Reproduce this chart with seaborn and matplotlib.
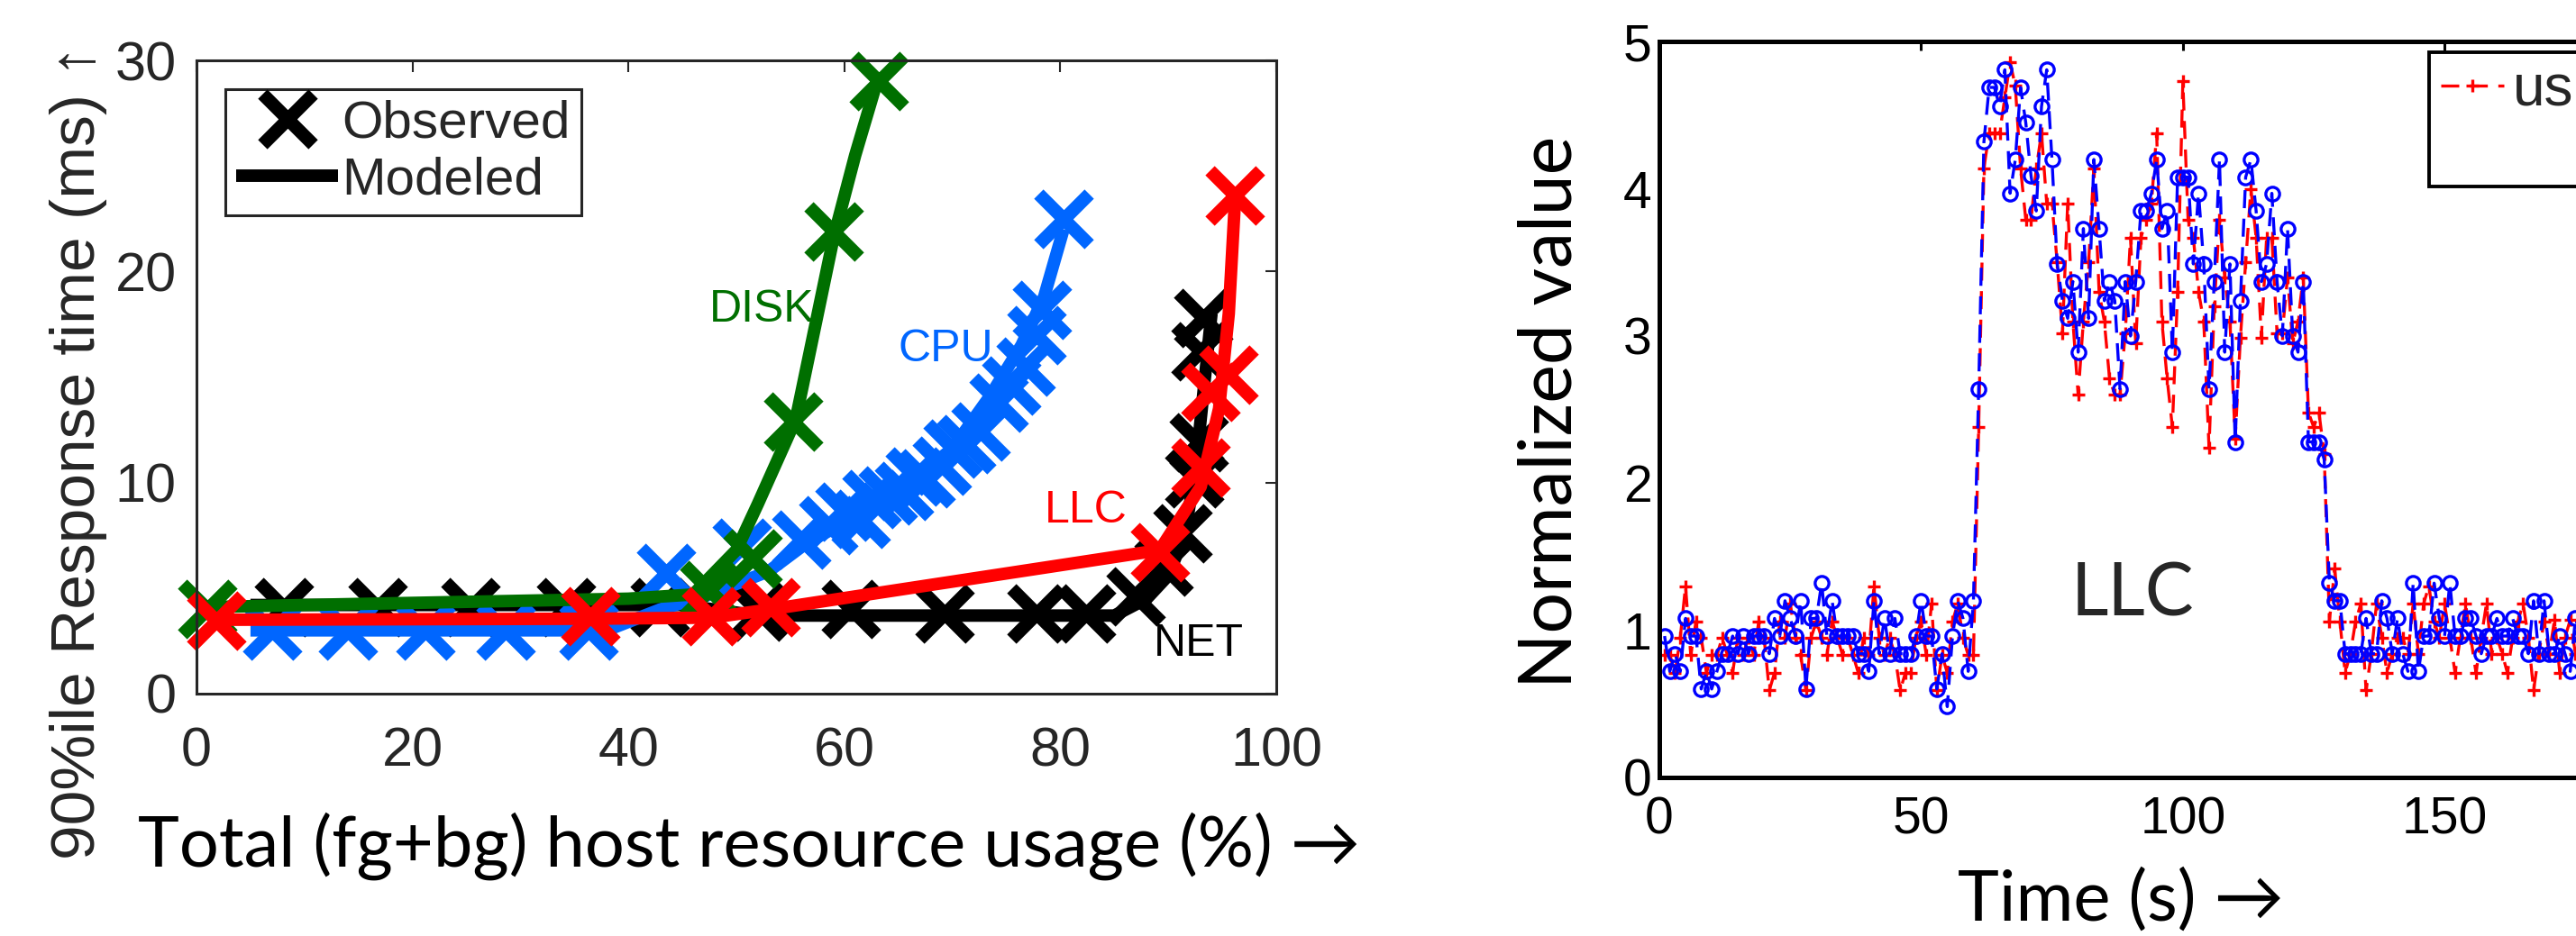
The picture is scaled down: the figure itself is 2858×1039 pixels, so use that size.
import numpy as np
import matplotlib
matplotlib.use("Agg")
import matplotlib.pyplot as plt
import seaborn as sns
from matplotlib.lines import Line2D

# --- 1. Left panel data: 90%ile response time vs total host usage ---
net_model_x = [5, 45, 52, 85, 88, 90, 91.5, 92.5, 93.3, 94]
net_model_y = [4.2, 4.2, 3.7, 3.7, 4.5, 5.6, 7.5, 10.5, 14.5, 18.0]
net_obs_x = [8.1, 16.8, 25.4, 34.2, 42.9, 52, 60.6, 69.3, 77.8, 82.4, 87, 89.6,
             91.3, 92.4, 92.8, 93, 93.2]
net_obs_y = [4.1, 4.1, 4.1, 4.1, 4.1, 3.9, 4.0, 3.8, 3.8, 3.8, 4.6, 6.0,
             7.6, 10.2, 11.9, 16.2, 17.8]

cpu_model_x = [5, 38, 43, 47, 53, 56.4, 61, 66, 70, 73.5, 76.4, 78.5, 80.3]
cpu_model_y = [3.0, 3.0, 4.0, 4.6, 5.8, 7.1, 8.4, 10.0, 11.6, 14.1, 16.5, 18.8, 22.0]
cpu_obs_x = [7, 14, 21.2, 28.6, 36.3, 43.5, 50.5, 56, 58.5, 60, 61.5, 62.5, 64,
             65.5, 66.5, 67.5, 69, 70, 71.3, 72.6, 74.3, 75.5, 76.8, 77.8, 78.3, 80.3]
cpu_obs_y = [3.0, 3.0, 3.0, 3.0, 3.0, 5.7, 6.9, 7.3, 8.0, 8.6, 8.3, 9.2, 9.4,
             9.6, 10.3, 10.2, 10.8, 11.6, 11.8, 12.4, 13.8, 14.6, 15.5, 17.0, 18.2, 22.5]

disk_model_x = [1, 10, 20, 30, 40, 46, 50, 52, 55.5, 59, 61, 63.2]
disk_model_y = [4.1, 4.2, 4.3, 4.4, 4.5, 4.7, 6.8, 9.0, 13.0, 21.6, 25.5, 29.3]
disk_obs_x = [1, 47.5, 51.5, 55.3, 59, 63.2]
disk_obs_y = [4.0, 4.9, 6.4, 12.9, 21.9, 29.0]

llc_model_x = [2, 36.5, 47.7, 53.2, 89.2, 93, 94.7, 95.6, 96.2]
llc_model_y = [3.5, 3.55, 3.6, 4.0, 6.8, 9.8, 13.5, 18.0, 23.6]
llc_obs_x = [1.8, 36.5, 47.7, 53.2, 89.2, 93, 93.9, 95.6, 96.2]
llc_obs_y = [3.45, 3.67, 3.67, 4.1, 6.7, 10.7, 14.3, 15.1, 23.6]

# --- 2. Right panel data: normalized LLC value, one sample per second ---
time_s = np.arange(1, 177)
usr_vals = [
    0.83, 0.83, 0.71, 0.95, 1.30, 0.83, 1.06, 0.95, 0.71, 0.83,
    0.83, 0.95, 0.83, 0.71, 0.95, 0.83, 0.95, 0.83, 1.06, 0.95,
    0.59, 0.71, 1.06, 0.95, 1.18, 0.95, 0.83, 0.59, 0.95, 1.06,
    0.95, 0.83, 1.06, 0.95, 0.83, 0.95, 0.83, 0.71, 0.95, 0.83,
    1.30, 0.95, 0.83, 0.95, 0.83, 0.59, 0.71, 0.71, 0.95, 1.06,
    0.83, 1.18, 0.59, 0.83, 0.71, 1.06, 1.18, 0.95, 0.83, 0.83,
    2.38, 4.14, 4.38, 4.38, 4.38, 4.62, 4.86, 4.70, 4.14, 3.79,
    3.79, 4.14, 4.38, 3.90, 3.90, 3.50, 3.02, 3.90, 3.10, 2.60,
    3.10, 3.50, 4.14, 3.30, 3.10, 2.71, 2.60, 2.60, 3.02, 3.67,
    2.95, 3.67, 3.79, 3.90, 4.38, 3.10, 2.71, 2.38, 3.30, 4.73,
    3.79, 3.67, 3.30, 3.10, 2.24, 3.20, 3.79, 3.40, 3.10, 2.30,
    2.99, 3.50, 4.00, 3.67, 2.99, 3.67, 3.67, 3.02, 3.02, 3.40,
    2.95, 3.10, 3.40, 2.48, 2.38, 2.48, 2.20, 1.06, 1.42, 1.06,
    0.71, 0.84, 1.06, 1.18, 0.59, 0.84, 1.18, 0.95, 0.71, 0.84,
    0.95, 0.95, 0.84, 1.18, 0.84, 1.18, 1.30, 1.06, 0.95, 1.18,
    0.95, 0.71, 0.95, 1.18, 0.95, 0.71, 0.95, 1.18, 0.84, 0.95,
    0.84, 0.71, 0.95, 1.06, 1.18, 0.95, 0.59, 0.84, 1.06, 0.84,
    1.07, 0.71, 0.95, 1.07, 0.84, 0.95,
]
other_vals = [
    0.96, 0.72, 0.84, 0.72, 1.08, 0.96, 0.96, 0.60, 0.72, 0.60,
    0.72, 0.84, 0.84, 0.96, 0.84, 0.96, 0.84, 0.96, 0.96, 0.96,
    0.84, 1.08, 0.96, 1.20, 1.08, 0.96, 1.20, 0.60, 1.08, 1.08,
    1.32, 0.96, 1.20, 0.96, 0.96, 0.96, 0.96, 0.84, 0.84, 0.72,
    1.20, 0.84, 1.08, 0.84, 1.08, 0.84, 0.84, 0.84, 0.96, 1.20,
    0.96, 0.96, 0.60, 0.84, 0.48, 0.96, 1.20, 1.08, 0.72, 1.20,
    2.64, 4.32, 4.69, 4.69, 4.56, 4.81, 3.97, 4.20, 4.69, 4.45,
    4.09, 3.85, 4.56, 4.81, 4.20, 3.49, 3.24, 3.12, 3.37, 2.89,
    3.73, 3.12, 4.20, 3.73, 3.24, 3.37, 3.24, 2.64, 3.37, 3.00,
    3.37, 3.85, 3.85, 3.97, 4.20, 3.73, 3.85, 2.89, 4.08, 4.08,
    4.08, 3.49, 3.97, 3.49, 2.64, 3.37, 4.20, 2.89, 3.49, 2.28,
    3.24, 4.08, 4.20, 3.85, 3.37, 3.49, 3.97, 3.37, 3.00, 3.73,
    3.00, 2.89, 3.37, 2.28, 2.28, 2.28, 2.16, 1.32, 1.20, 1.20,
    0.84, 0.84, 0.84, 0.84, 1.08, 0.84, 0.84, 1.20, 1.08, 0.84,
    1.08, 0.84, 0.72, 1.32, 0.72, 0.96, 0.96, 1.32, 1.08, 0.96,
    1.32, 0.96, 0.96, 1.08, 1.08, 0.96, 0.84, 0.96, 0.96, 1.08,
    0.96, 0.96, 1.08, 0.96, 0.96, 0.84, 1.20, 0.84, 1.20, 0.84,
    0.84, 0.96, 0.84, 0.72, 1.08, 0.96,
]

GREEN = "#006f00"
BLUE = "#0066ff"
RED = "#ff0000"
DARK = "#262626"
MATLAB_FONT = ["Liberation Sans", "DejaVu Sans"]
SLIDE_FONT = ["Lato", "DejaVu Sans"]

# --- 3. Figure setup (pixel layout of the slide) ---
sns.set_style("white")
plt.rcParams["font.family"] = MATLAB_FONT
W, H = 2858, 1039
fig = plt.figure(figsize=(W / 100, H / 100), dpi=100)
ax1 = fig.add_axes([218 / W, 1 - 770 / H, 1198 / W, 703 / H])
ax2 = fig.add_axes([1841 / W, 1 - 862.8 / H, 1161.6 / W, 816.4 / H])

# --- 4. Left panel ---
series = [
    (net_model_x, net_model_y, net_obs_x, net_obs_y, "black"),
    (cpu_model_x, cpu_model_y, cpu_obs_x, cpu_obs_y, BLUE),
    (disk_model_x, disk_model_y, disk_obs_x, disk_obs_y, GREEN),
    (llc_model_x, llc_model_y, llc_obs_x, llc_obs_y, RED),
]
for mx, my, ox, oy, col in series:
    sns.lineplot(x=mx, y=my, ax=ax1, color=col, linewidth=10, sort=False,
                 estimator=None, legend=False, solid_capstyle="butt")
    sns.lineplot(x=ox, y=oy, ax=ax1, color=col, linestyle="none", marker="x",
                 markersize=40, markeredgewidth=10.5, markeredgecolor=col,
                 sort=False, estimator=None, legend=False, clip_on=False)

ax1.set_xlim(0, 100)
ax1.set_ylim(0, 30)
ax1.set_xticks([0, 20, 40, 60, 80, 100])
ax1.set_yticks([0, 10, 20, 30])
ax1.set_xlabel("")
ax1.set_ylabel("")
ax1.tick_params(direction="in", top=True, right=True, length=9, width=1.5,
                labelsize=44, labelcolor=DARK, color=DARK)
ax1.tick_params(axis="x", pad=26)
ax1.tick_params(axis="y", pad=16)
for sp in ax1.spines.values():
    sp.set_linewidth(2.2)
    sp.set_color(DARK)

ax1.text(47.5, 18.2, "DISK", color=GREEN, fontsize=36, va="center")
ax1.text(65.0, 16.3, "CPU", color=BLUE, fontsize=36, va="center")
ax1.text(78.5, 8.66, "LLC", color=RED, fontsize=36, va="center")
ax1.text(88.6, 2.35, "NET", color="black", fontsize=36, va="center")

h_obs = Line2D([], [], color="black", linestyle="none", marker="x",
               markersize=40, markeredgewidth=10.5)
h_mod = Line2D([], [], color="black", linewidth=10, solid_capstyle="butt")
leg1 = ax1.legend([h_obs, h_mod], ["Observed", "Modeled"], loc="upper left",
                  bbox_to_anchor=(250 / W, 1 - 99 / H), bbox_transform=fig.transFigure,
                  borderaxespad=0, fontsize=42, fancybox=False, framealpha=1,
                  edgecolor=DARK, handlelength=1.95, handletextpad=0.07,
                  borderpad=0.2, labelspacing=0.15)
leg1.get_frame().set_linewidth(2.2)

fig.text(105 / W, 1 - 502 / H, "90%ile Response time (ms) \u2191", rotation=90,
         rotation_mode="anchor", ha="center", va="baseline", fontsize=50,
         color=DARK, family=MATLAB_FONT)
fig.text(831 / W, 1 - 962 / H, "Total (fg+bg) host resource usage (%) \u2192",
         ha="center", va="baseline", fontsize=56, color="black", family=SLIDE_FONT)

# --- 5. Right panel ---
dash = (0, (6, 3.5))
sns.lineplot(x=time_s, y=usr_vals, ax=ax2, color=RED, linestyle=dash, linewidth=2.4,
             marker="+", markersize=10, markeredgewidth=2.4, markeredgecolor=RED,
             estimator=None, legend=False)
sns.lineplot(x=time_s, y=other_vals, ax=ax2, color="blue", linestyle=dash, linewidth=2.4,
             marker="o", markersize=11, markeredgewidth=2.4, markeredgecolor="blue",
             markerfacecolor="none", estimator=None, legend=False)

ax2.set_xlim(0, 200)
ax2.set_ylim(0, 5)
ax2.set_xticks([0, 50, 100, 150])
ax2.set_yticks([0, 1, 2, 3, 4, 5])
ax2.set_xlabel("")
ax2.set_ylabel("")
ax2.tick_params(direction="in", top=True, right=True, length=7, width=2.2,
                labelsize=41, labelcolor="black", color="black")
ax2.tick_params(axis="x", pad=15)
ax2.tick_params(axis="y", pad=6)
for sp in ax2.spines.values():
    sp.set_linewidth(3.6)
    sp.set_color("black")

ax2.text(78.7, 1.10, "LLC", fontsize=58, ha="left", va="baseline", family=SLIDE_FONT)

h_usr = Line2D([], [], color=RED, linestyle=dash, linewidth=2.4, marker="+",
               markersize=10, markeredgewidth=2.4)
h_blank = Line2D([], [], linestyle="none")
leg2 = ax2.legend([h_usr, h_blank], ["usr", " "], loc="upper left",
                  bbox_to_anchor=(2695 / W, 1 - 58 / H), bbox_transform=fig.transFigure,
                  borderaxespad=0, fontsize=46, fancybox=False, framealpha=1,
                  edgecolor="black", handlelength=1.1, handletextpad=0.15,
                  borderpad=0.2, labelspacing=0.05)
leg2.get_frame().set_linewidth(2.8)

fig.text(1744 / W, 1 - 457 / H, "Normalized value", rotation=90, rotation_mode="anchor",
         ha="center", va="baseline", fontsize=58, color="black", family=SLIDE_FONT)
fig.text(2353 / W, 1 - 1022 / H, "Time (s) \u2192", ha="center", va="baseline",
         fontsize=56, color="black", family=SLIDE_FONT)

fig.savefig("out.png", dpi=100)
